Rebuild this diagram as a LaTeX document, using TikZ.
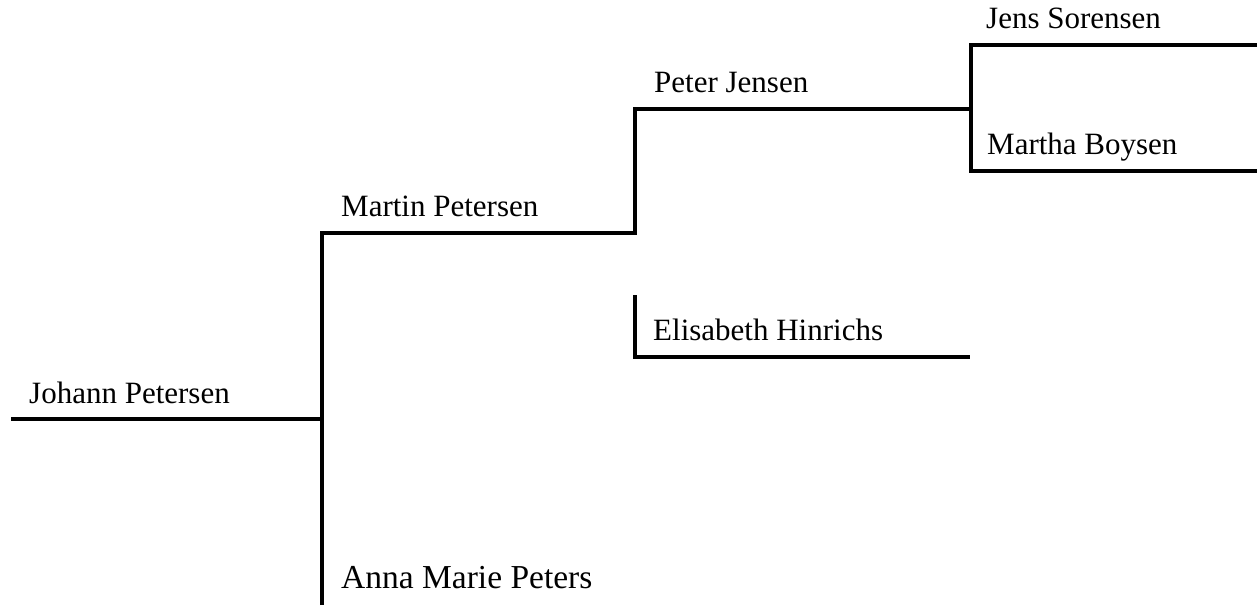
\documentclass[tikz,border=0pt]{standalone}
\usepackage{fontspec}
\setmainfont{Liberation Serif}
\usetikzlibrary{positioning}

\begin{document}
\begin{tikzpicture}[
      x=1pt, y=-1pt,
      line/.style={draw, line width=3.4pt, line join=miter},
      person/.style={anchor=base west, inner sep=0pt, font=\fontsize{31}{37}\selectfont}]
    \useasboundingbox (0,0) rectangle (1257,605);
    % Line ends, generation by generation
    \coordinate (johannL) at (11,419);
    \coordinate (johannR) at (322,419);
    \coordinate (annaL)   at (322,605);
    \coordinate (martinL) at (322,233);
    \coordinate (martinR) at (635,233);
    \coordinate (peterL)  at (635,109);
    \coordinate (peterR)  at (971,109);
    \coordinate (elisT)   at (635,295);
    \coordinate (elisL)   at (635,357);
    \coordinate (elisR)   at (970,357);
    \coordinate (jensL)   at (971,45);
    \coordinate (jensR)   at (1257,45);
    \coordinate (marthaL) at (971,171);
    \coordinate (marthaR) at (1257,171);
    % Names
    \node[person] (johann) at (29,403)  {Johann Petersen};
    \node[person] (martin) at (341,216) {Martin Petersen};
    \node[person, font=\fontsize{33.5}{40}\selectfont] (anna) at (341,588) {Anna Marie Peters};
    \node[person] (peter)  at (654,92)  {Peter Jensen};
    \node[person] (elis)   at (653,340) {Elisabeth Hinrichs};
    \node[person] (jens)   at (986,28)  {Jens Sorensen};
    \node[person] (martha) at (987,154) {Martha Boysen};
    % Lines
    \draw[line] (johannL) -- (johannR);
    \draw[line] (annaL) -- (martinL) -- (martinR) -- (peterL) -- (peterR);
    \draw[line] (elisT) -- (elisL) -- (elisR);
    \draw[line] (jensR) -- (jensL) -- (marthaL) -- (marthaR);
  \end{tikzpicture}
\end{document}
